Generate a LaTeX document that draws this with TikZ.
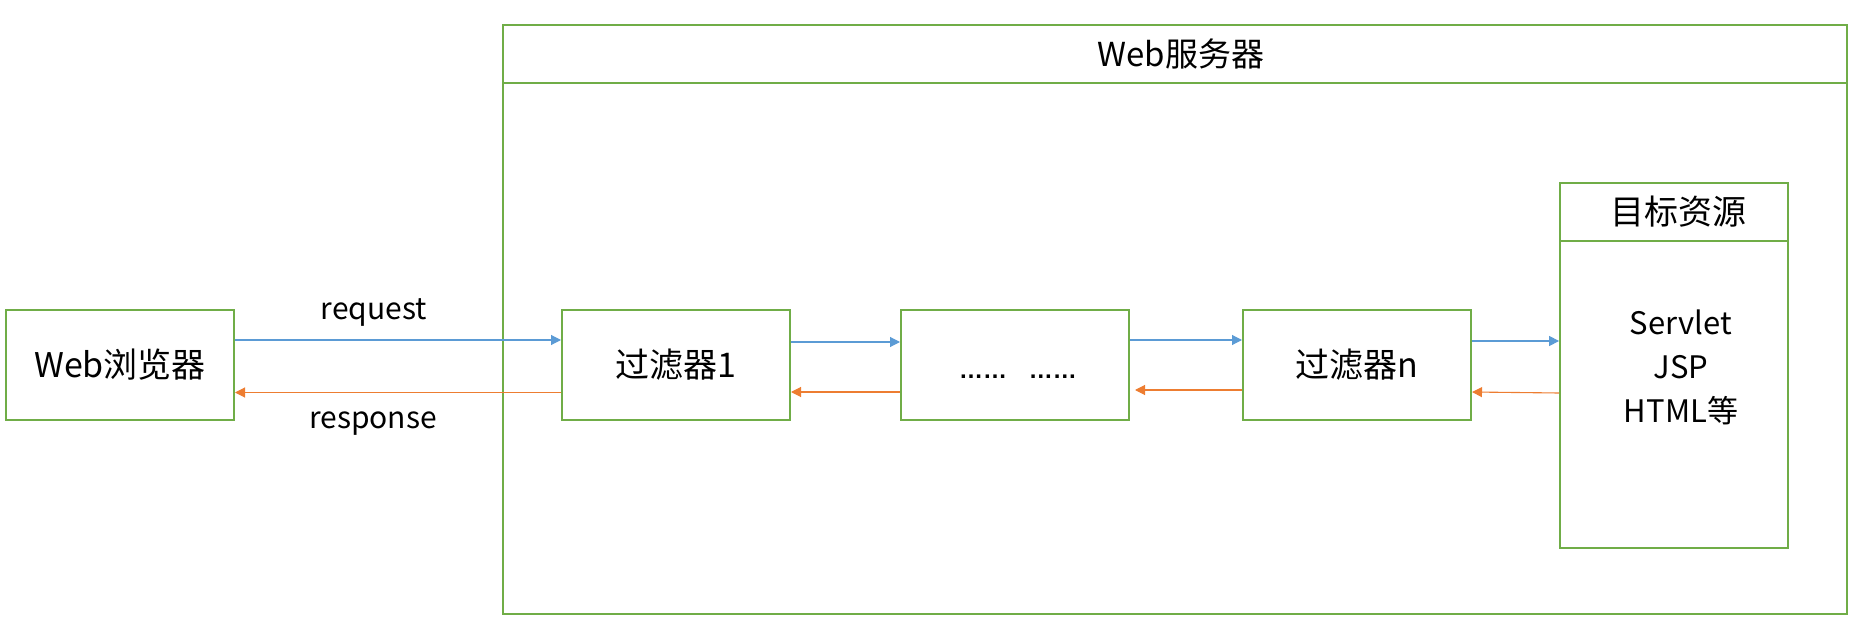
\documentclass[tikz,border=0pt]{standalone}
\usepackage{fontspec}
\setmainfont{Noto Sans CJK SC}
\newfontfamily\latinfont{Liberation Sans}
\usetikzlibrary{arrows.meta}
\definecolor{boxgreen}{HTML}{70AD47}
\definecolor{reqblue}{HTML}{5B9BD5}
\definecolor{resorange}{HTML}{ED7D31}
\begin{document}
\begin{tikzpicture}[x=1pt,y=-1pt,
  stepbox/.style={draw=boxgreen, line width=2pt, minimum width=228pt, minimum height=110pt, inner sep=0pt, font=\fontsize{34}{40}\selectfont},
  reqarrow/.style={draw=reqblue, line width=1.1pt, -{Triangle[length=10pt,width=10pt]}},
  resarrow/.style={draw=resorange, line width=1.1pt, -{Triangle[length=10pt,width=10pt]}},
  lbl/.style={inner sep=0pt, font=\fontsize{30}{36}\selectfont}]
\useasboundingbox (0,0) rectangle (1872,628);
% server frame
\node[draw=boxgreen, line width=1.7pt, minimum width=1344pt, minimum height=589pt, inner sep=0pt] (server) at (1175,319.5) {};
\coordinate (shl) at (503,83);
\coordinate (shr) at (1847,83);
\draw[boxgreen, line width=1.2pt] (shl) -- (shr);
\node[lbl, font=\fontsize{33}{40}\selectfont] (servertitle) at (1181,54) {Web服务器};
% boxes
\node[stepbox] (browser) at (120,365) {Web浏览器};
\node[stepbox] (filter1) at (676,365) {过滤器1};
\node[stepbox] (dots) at (1015,365) {};
\node[lbl, anchor=base] (dotstext) at (1018,378) {\latinfont\bfseries\fontsize{24}{28}\selectfont ……\hspace{22pt}……};
\node[stepbox] (filtern) at (1357,365) {过滤器n};
% target resource
\node[draw=boxgreen, line width=1.8pt, minimum width=228pt, minimum height=365pt, inner sep=0pt] (target) at (1674,365.5) {};
\coordinate (thl) at (1560,241);
\coordinate (thr) at (1788,241);
\draw[boxgreen, line width=1.1pt] (thl) -- (thr);
\node[lbl, font=\fontsize{34}{40}\selectfont] (targettitle) at (1678,212) {目标资源};
\node[lbl, align=center, font=\fontsize{31}{44}\selectfont] (targettext) at (1681,367) {Servlet\\JSP\\HTML等};
% labels
\node[lbl] (reqlabel) at (374,312) {request};
\node[lbl] (reslabel) at (373,424) {response};
% requests
\draw[reqarrow] ([yshift=25pt]browser.east) -- ([yshift=25pt]filter1.west);
\draw[reqarrow] ([yshift=23pt]filter1.east) -- ([yshift=23pt]dots.west);
\draw[reqarrow] ([yshift=25pt]dots.east) -- ([yshift=25pt]filtern.west);
\draw[reqarrow] ([yshift=24pt]filtern.east) -- ([yshift=24.5pt]target.west);
% responses
\draw[resarrow] ([yshift=-27.5pt]target.west) -- ([yshift=-27pt]filtern.east);
\draw[resarrow, shorten >=5pt] ([yshift=-25pt]filtern.west) -- ([yshift=-25pt]dots.east);
\draw[resarrow] ([yshift=-27pt]dots.west) -- ([yshift=-27pt]filter1.east);
\draw[resarrow] ([yshift=-27.5pt]filter1.west) -- ([yshift=-27.5pt]browser.east);
\end{tikzpicture}
\end{document}
